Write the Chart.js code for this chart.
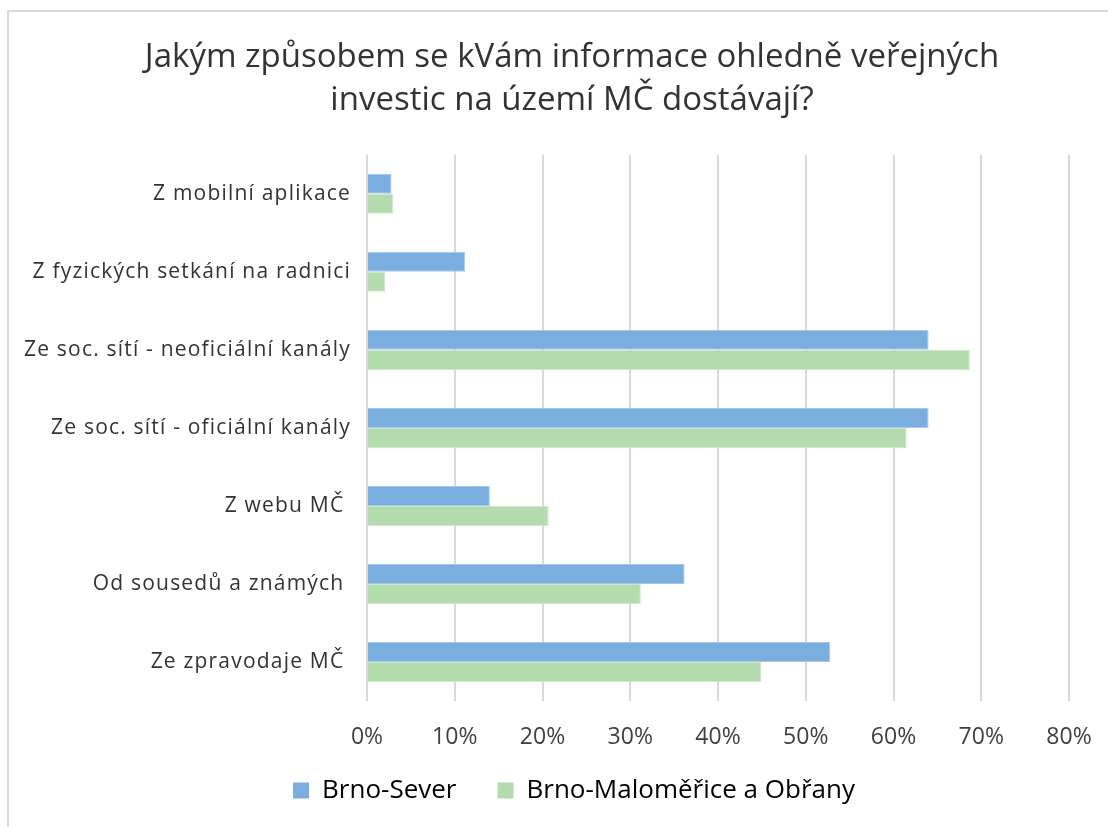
<!DOCTYPE html>
<html>
<head>
<meta charset="utf-8">
<script src="https://cdn.jsdelivr.net/npm/chart.js@4"></script>
<style>
  html, body { margin: 0; padding: 0; background: #fff; }
  #wrap { position: relative; width: 1108px; height: 827px; overflow: hidden; }
  #frame { position: absolute; left: 7px; top: 10px; width: 1200px; height: 900px;
           border-left: 2px solid #d9d9d9; border-top: 2px solid #d9d9d9; }
  canvas { position: absolute; left: 0; top: 0; }
</style>
</head>
<body>
<div id="wrap">
  <div id="frame"></div>
  <canvas id="c" width="1108" height="827"></canvas>
</div>
<script>
const categories = [
  "Z mobilní aplikace",
  "Z fyzických setkání na radnici",
  "Ze soc. sítí - neoficiální kanály",
  "Ze soc. sítí - oficiální kanály",
  "Z webu MČ ",
  "Od sousedů a známých ",
  "Ze zpravodaje MČ "
];
const seriesNames = ["Brno-Sever", "Brno-Maloměřice a Obřany"];
const brnoSever = [2.8, 11.2, 64.0, 64.0, 14.0, 36.2, 52.8];
const brnoMalomerice = [3.0, 2.1, 68.7, 61.5, 20.7, 31.2, 44.9];
const xTicks = [0, 10, 20, 30, 40, 50, 60, 70, 80];
const titleLines = ["Jakým způsobem se kVám informace ohledně veřejných", "investic na území MČ dostávají?"];

const FONT = "'Open Sans', Lato, sans-serif";
const LEGEND_PAD = 41;
const LEGEND_FIT_H = 51;

// layout helpers: centre title and legend like the original frame, keep legend compact vertically
const layoutTweaks = {
  id: 'layoutTweaks',
  beforeLayout(chart) {
    const lg = chart.legend;
    if (lg && !lg._fitPatched) {
      const origFit = lg.fit;
      lg.fit = function () { origFit.call(this); if (this.isHorizontal()) this.height = LEGEND_FIT_H; };
      lg._fitPatched = true;
    }
  },
  afterLayout(chart) {
    const dx = 37.5;
    if (chart.titleBlock) { chart.titleBlock.left += dx; chart.titleBlock.right += dx; }
    const lg = chart.legend;
    if (lg) {
      lg.left += dx + 2; lg.right += dx + 2;
      const top = 793 - LEGEND_PAD - 15.6;
      lg.top = top; lg.bottom = chart.height; lg.height = lg.bottom - lg.top;
    }
  }
};

new Chart(document.getElementById('c'), {
  type: 'bar',
  data: {
    labels: categories,
    datasets: [
      { label: seriesNames[0], data: brnoSever, backgroundColor: '#7aaede', borderColor: '#a9c8ea', borderWidth: 1,
        categoryPercentage: 0.513, barPercentage: 1.0 },
      { label: seriesNames[1], data: brnoMalomerice, backgroundColor: '#b4dbae', borderColor: '#cfe8ca', borderWidth: 1,
        categoryPercentage: 0.513, barPercentage: 1.0 }
    ]
  },
  plugins: [layoutTweaks],
  options: {
    indexAxis: 'y',
    responsive: false,
    animation: false,
    layout: { padding: { top: 36, right: 39, bottom: 10, left: 0 } },
    plugins: {
      title: {
        display: true,
        text: titleLines,
        color: '#333333',
        font: { family: FONT, size: 33, weight: '400', lineHeight: 1.3 },
        padding: { top: 0, bottom: 33 }
      },
      legend: {
        position: 'bottom',
        labels: {
          color: '#333333',
          font: { family: FONT, size: 26 },
          boxWidth: 16, boxHeight: 16, padding: LEGEND_PAD,
          generateLabels: (chart) => chart.data.datasets.map((ds, i) => ({
            text: ds.label, fillStyle: ds.backgroundColor, strokeStyle: ds.backgroundColor,
            lineWidth: 0, datasetIndex: i, hidden: false
          }))
        }
      },
      tooltip: { enabled: false }
    },
    scales: {
      x: {
        min: 0, max: 80,
        afterBuildTicks: (s) => { s.ticks = xTicks.map(v => ({ value: v })); },
        afterFit: (s) => { s.height = 65; s.paddingLeft = 0; s.paddingRight = 0; },
        grid: { color: '#d9d9d9', lineWidth: 2, drawTicks: false },
        border: { display: false },
        ticks: { color: '#404040', font: { family: FONT, size: 23 }, padding: 23,
                 callback: (v) => v + '%' }
      },
      y: {
        afterFit: (s) => {
          s.width = 367;
          if (!s._lsPatched) {
            const orig = s.drawLabels;
            s.drawLabels = function (area) {
              const ctx = this.ctx;
              ctx.save();
              ctx.letterSpacing = '1.2px';
              orig.call(this, area);
              ctx.restore();
            };
            s._lsPatched = true;
          }
        },
        grid: { display: false, drawTicks: false },
        border: { display: false },
        ticks: { color: '#333333', font: { family: FONT, size: 21 }, padding: 16 }
      }
    }
  }
});
</script>
</body>
</html>
